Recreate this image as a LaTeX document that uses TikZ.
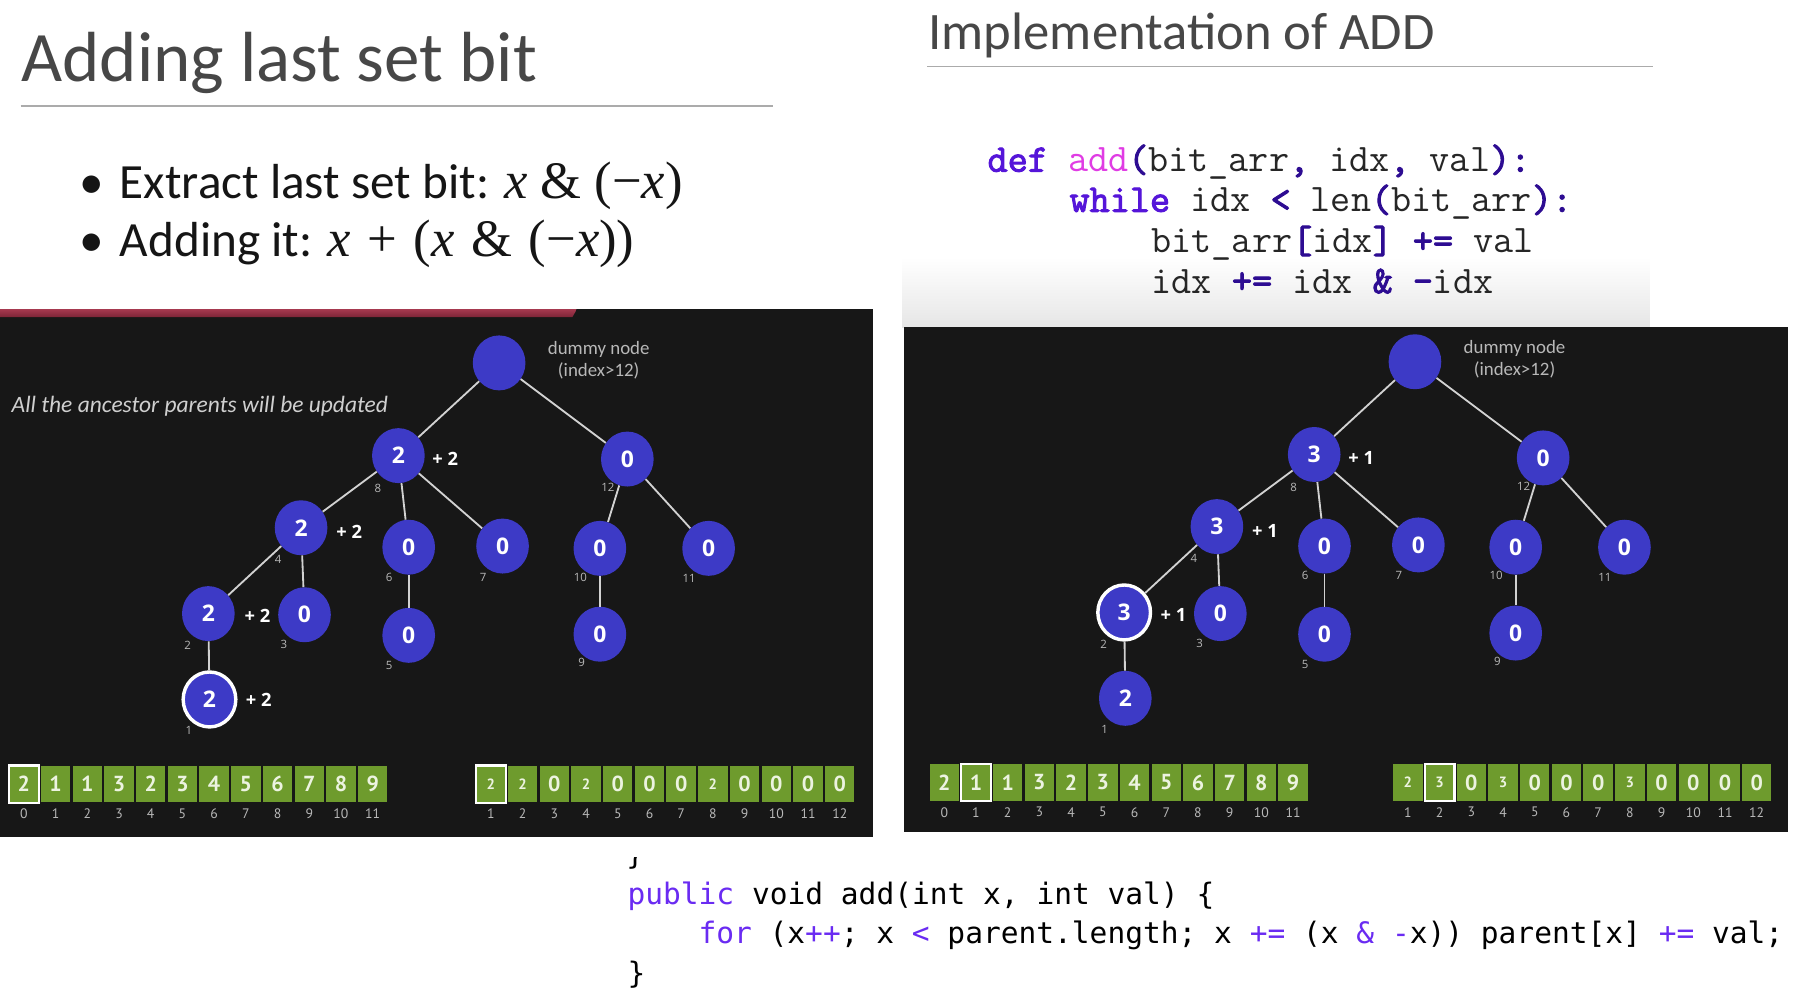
\documentclass[tikz,border=0pt]{standalone}
\usepackage{fontspec}
\setmainfont{Carlito}
\newfontfamily\serifmath{Liberation Serif}
\newfontfamily\pycode{Latin Modern Mono}[AutoFakeBold=2.5]
\newfontfamily\javacode{DejaVu Sans Mono}
\newfontfamily\treefont{Open Sans}
\newfontfamily\cellfont{PT Sans}
\usetikzlibrary{shapes.geometric}

\definecolor{titlegray}{HTML}{474747}
\definecolor{bodyblack}{HTML}{151515}
\definecolor{rulegray}{HTML}{ABABAB}
\definecolor{panel}{HTML}{171717}
\definecolor{redbar}{HTML}{A6394F}
\definecolor{redbardark}{HTML}{7C2436}
\definecolor{nodeblue}{HTML}{3D3AC6}
\definecolor{edgegray}{HTML}{D2D2D2}
\definecolor{idxgray}{HTML}{B8B8B8}
\definecolor{labelgray}{HTML}{CFCFCF}
\definecolor{cellgreen}{HTML}{6E9B2D}
\definecolor{celltext}{HTML}{ECF3E0}
\definecolor{pykwc}{HTML}{5515D9}
\definecolor{pyfnc}{HTML}{E03CE4}
\definecolor{pyopc}{HTML}{2D0C92}
\definecolor{pytextc}{HTML}{262626}
\definecolor{javakwc}{HTML}{6A2BF2}
\definecolor{codeshade}{HTML}{E6E6E6}

% syntax colouring helpers
\newcommand\PyKw[1]{\textcolor{pykwc}{\bfseries #1}}
\newcommand\PyOp[1]{\textcolor{pyopc}{\bfseries #1}}
\newcommand\PyFn[1]{\textcolor{pyfnc}{#1}}
\newcommand\JvKw[1]{\textcolor{javakwc}{#1}}
\newcommand\mth[1]{{\serifmath\fontsize{46}{46}\selectfont #1}}
\newcommand\opgap{\hspace{3pt}}
\newcommand\smdigit{\fontsize{13}{13}\selectfont}

\tikzset{
  bitnode/.style={ellipse, fill=nodeblue, minimum width=46pt, minimum height=48pt,
    inner sep=0pt, text=white, font=\treefont\bfseries\fontsize{20}{20}\selectfont},
  hotnode/.style={bitnode, draw=white, line width=3pt},
  treeedge/.style={draw=edgegray, line width=1.6pt},
  idxlabel/.style={inner sep=0pt, text=idxgray, font=\treefont\fontsize{10}{10}\selectfont},
  inclabel/.style={inner sep=0pt, text=white, font=\treefont\bfseries\fontsize{16}{16}\selectfont},
  dummytext/.style={inner sep=0pt, align=center, text=idxgray, font=\fontsize{16.5}{19}\selectfont},
  cell/.style={fill=cellgreen, minimum width=25.7pt, minimum height=32pt, inner sep=0pt,
    text=celltext, font=\cellfont\bfseries\fontsize{19}{19}\selectfont},
  arridx/.style={inner sep=0pt, text=idxgray, font=\cellfont\fontsize{12}{12}\selectfont},
  hotframe/.style={draw=white, line width=2pt},
  textline/.style={anchor=base west, inner sep=0pt},
}

% Fenwick tree drawn in the coordinates of the left panel
% #1 prefix, #2 value at 8, #3 value at 4, #4 value at 2, #5 value at 1,
% #6 increment label, #7 style of node 2, #8 style of node 1
\newcommand{\fenwicktree}[8]{%
  \node[bitnode] (#1-root) at (436,317) {};
  \node[dummytext] (#1-dummy) at (523,314.5) {dummy node\\(index>12)};
  \node[bitnode] (#1-n8) at (348,398) {#2};
  \node[bitnode] (#1-n12) at (548,401) {0};
  \node[bitnode] (#1-n4) at (263,461) {#3};
  \node[bitnode] (#1-n6) at (357,478) {0};
  \node[bitnode] (#1-n7) at (439,477) {0};
  \node[bitnode] (#1-n10) at (524,479) {0};
  \node[bitnode] (#1-n11) at (619,479) {0};
  \node[#7] (#1-n2) at (182,536) {#4};
  \node[bitnode] (#1-n3) at (266,537) {0};
  \node[bitnode] (#1-n5) at (357,555) {0};
  \node[bitnode] (#1-n9) at (524,554) {0};
  \node[#8] (#1-n1) at (183,611) {#5};
  \draw[treeedge] (#1-root) -- (#1-n8);
  \draw[treeedge] (#1-root) -- (#1-n12);
  \draw[treeedge] (#1-n8) -- (#1-n4);
  \draw[treeedge] (#1-n8) -- (#1-n6);
  \draw[treeedge] (#1-n8) -- (#1-n7);
  \draw[treeedge] (#1-n4) -- (#1-n2);
  \draw[treeedge] (#1-n4) -- (#1-n3);
  \draw[treeedge] (#1-n6) -- (#1-n5);
  \draw[treeedge] (#1-n12) -- (#1-n10);
  \draw[treeedge] (#1-n12) -- (#1-n11);
  \draw[treeedge] (#1-n10) -- (#1-n9);
  \draw[treeedge] (#1-n2) -- (#1-n1);
  \node[inclabel] (#1-i8) at (389,401) {#6};
  \node[inclabel] (#1-i4) at (305,465) {#6};
  \node[inclabel] (#1-i2) at (225,538) {#6};
  \node[idxlabel] (#1-l8) at (330,427) {8};
  \node[idxlabel] (#1-l12) at (531,426) {12};
  \node[idxlabel] (#1-l4) at (243,489) {4};
  \node[idxlabel] (#1-l6) at (340,504) {6};
  \node[idxlabel] (#1-l7) at (422,504) {7};
  \node[idxlabel] (#1-l10) at (507,504) {10};
  \node[idxlabel] (#1-l11) at (602,505) {11};
  \node[idxlabel] (#1-l2) at (164,564) {2};
  \node[idxlabel] (#1-l3) at (248,563) {3};
  \node[idxlabel] (#1-l5) at (340,581) {5};
  \node[idxlabel] (#1-l9) at (508,579) {9};
  \node[idxlabel] (#1-l1) at (165,638) {1};
}

% row of array cells: #1 prefix, #2 left edge, #3 values, #4 first index, #5 highlighted slot
\newcommand{\cellrow}[5]{%
  \foreach \v [count=\i] in {#3} {
    \node[cell] (#1-\i) at ({#2+(\i-0.5)*27.7},685) {\v};
    \node[arridx] (#1-idx\i) at ({#2+(\i-0.5)*27.7},711) {\number\numexpr\i+#4-1\relax};
  }
  \draw[hotframe] (#1-#5.south west) rectangle (#1-#5.north east);
}

\begin{document}
\begin{tikzpicture}[x=1pt,y=-1pt]
  \useasboundingbox (0,0) rectangle (1568,878);
  \fill[white] (0,0) rectangle (1568,878);

  % ---------- left slide ----------
  \node[textline, text=titlegray, font=\fontsize{62}{62}\selectfont] (title1) at (18.5,71.3) {Adding last set bit};
  \draw[rulegray, line width=1.2pt] (18,92.5) -- (675,92.5);

  \node[textline, text=bodyblack, font=\fontsize{43}{43}\selectfont] (dot1) at (69,173) {•};
  \node[textline, text=bodyblack, font=\fontsize{43}{43}\selectfont] (bul1) at (104.6,173)
    {Extract last set bit: \mth{{\itshape x} \& (−{\itshape x})}};
  \node[textline, text=bodyblack, font=\fontsize{43}{43}\selectfont] (dot2) at (69,224) {•};
  \node[textline, text=bodyblack, font=\fontsize{43}{43}\selectfont] (bul2) at (104.6,224)
    {Adding it: \mth{{\itshape x}\opgap{} + \opgap({\itshape x}\opgap{} \& \opgap(−{\itshape x}))}};

  \fill[panel] (0,270) rectangle (763,731);
  \shade[top color=redbar, bottom color=redbardark] (0,270) -- (504,270) -- (500,277) -- (0,277) -- cycle;

  \node[textline, text=labelgray, font=\itshape\fontsize{20.5}{20.5}\selectfont] (note) at (10,360)
    {All the ancestor parents will be updated};

  \fenwicktree{L}{2}{2}{2}{2}{+ 2}{bitnode}{hotnode}
  \node[inclabel] (L-i1) at (226,611) {+ 2};

  \cellrow{La}{7}{2,1,1,3,2,3,4,5,6,7,8,9}{0}{1}
  \cellrow{Lb}{415}{\smdigit 2,\smdigit 2,0,\smdigit 2,0,0,0,\smdigit 2,0,0,0,0}{1}{1}

  % ---------- right slide ----------
  \node[textline, text=titlegray, font=\fontsize{46}{46}\selectfont] (title2) at (811,43) {Implementation of ADD};
  \draw[rulegray, line width=1.2pt] (810,58) -- (1444,58);

  \shade[top color=white, bottom color=codeshade] (788,225) rectangle (1441,286);

  \node[textline, text=pytextc, font=\pycode\fontsize{34.1}{34.1}\selectfont] (py1) at (862.5,150)
    {\PyKw{def} \PyFn{add}\PyOp{(}bit\_arr\PyOp{,} idx\PyOp{,} val\PyOp{):}};
  \node[textline, text=pytextc, font=\pycode\fontsize{34.1}{34.1}\selectfont] (py2) at (934.1,185)
    {\PyKw{while} idx \PyOp{<} len\PyOp{(}bit\_arr\PyOp{):}};
  \node[textline, text=pytextc, font=\pycode\fontsize{34.1}{34.1}\selectfont] (py3) at (1005.7,221)
    {bit\_arr\PyOp{[}idx\PyOp{]} \PyOp{+=} val};
  \node[textline, text=pytextc, font=\pycode\fontsize{34.1}{34.1}\selectfont] (py4) at (1005.7,256)
    {idx \PyOp{+=} idx \PyOp{\&} \PyOp{-}idx};

  \fill[panel] (790,286) rectangle (1562,727);
  \begin{scope}[shift={(800,-1)}]
    \fenwicktree{R}{3}{3}{3}{2}{+ 1}{hotnode}{bitnode}
  \end{scope}
  \begin{scope}[shift={(0,-1.5)}]
    \cellrow{Ra}{811}{2,1,1,3,2,3,4,5,6,7,8,9}{0}{2}
    \cellrow{Rb}{1216}{\smdigit 2,\smdigit 3,0,\smdigit 3,0,0,0,\smdigit 3,0,0,0,0}{1}{2}
  \end{scope}

  % ---------- Java version below ----------
  \begin{scope}
    \clip (540,749) rectangle (575,770);
    \node[textline, text=black, font=\javacode\fontsize{25.8}{25.8}\selectfont] (jv0) at (547,755.5) {\}};
  \end{scope}
  \node[textline, text=black, font=\javacode\fontsize{25.8}{25.8}\selectfont] (jv1) at (548,790)
    {\JvKw{public} void add(int x, int val) \{};
  \node[textline, text=black, font=\javacode\fontsize{25.8}{25.8}\selectfont] (jv2) at (610,824.5)
    {\JvKw{for} (x\JvKw{++}; x \JvKw{<} parent.length; x \JvKw{+=} (x \JvKw{\&} \JvKw{-}x)) parent[x] \JvKw{+=} val;};
  \node[textline, text=black, font=\javacode\fontsize{25.8}{25.8}\selectfont] (jv3) at (548,859) {\}};
\end{tikzpicture}
\end{document}
